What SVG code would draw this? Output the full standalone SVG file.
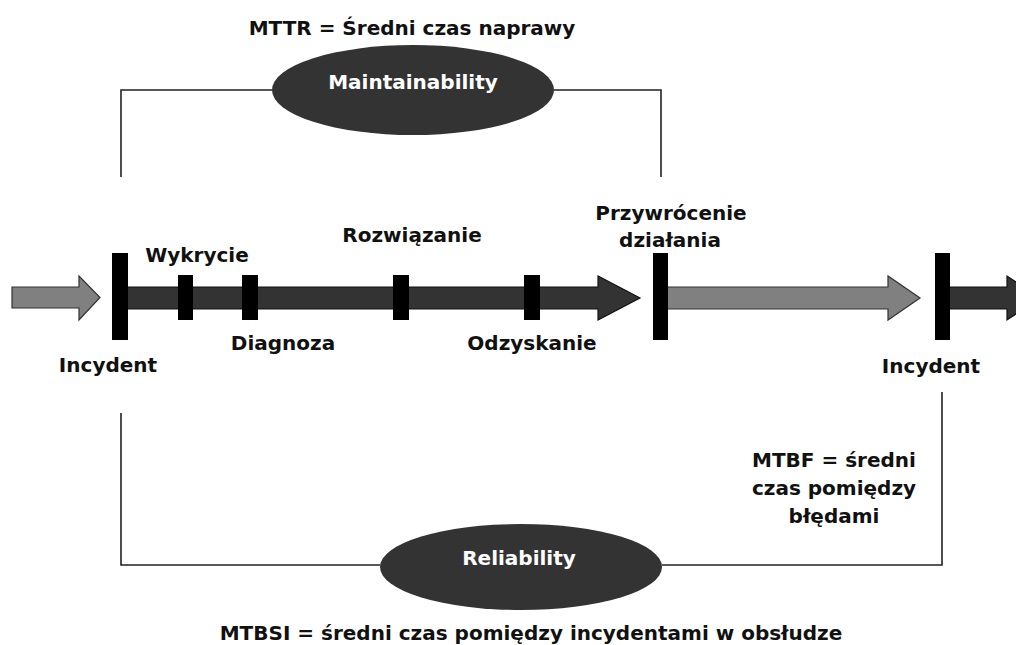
<svg xmlns="http://www.w3.org/2000/svg" width="1016" height="645" viewBox="0 0 1016 645">
  <style>
    .lbl { font-family: "DejaVu Sans", "Liberation Sans", sans-serif; font-weight: bold; font-size: 20px; fill: #111; }
    .inv { font-family: "DejaVu Sans", "Liberation Sans", sans-serif; font-weight: bold; font-size: 20px; fill: #fff; }
    .bracket { fill: none; stroke: #222; stroke-width: 1.6; }
    .oval { fill: #333; }
    .dark { fill: #333; stroke: #111; stroke-width: 1.2; }
    .grey { fill: #808080; stroke: #333; stroke-width: 1.2; }
    .bar { fill: #000; }
  </style>
  <rect width="1016" height="645" fill="#fff"/>

  <!-- bracket lines joining the time markers to the two measures -->
  <g id="connectors">
    <polyline class="bracket" points="121,177 121,90 272,90"/>
    <polyline class="bracket" points="554,90 661,90 661,177"/>
    <polyline class="bracket" points="121,413 121,565 380,565"/>
    <polyline class="bracket" points="662,565 942,565 942,392"/>
  </g>

  <!-- time-line arrows -->
  <g id="arrow-before">
    <polygon class="grey" points="12,287 79,287 79,276 100,297.5 79,320 79,308 12,308"/>
  </g>
  <g id="arrow-outage">
    <polygon class="dark" points="126,287 598,287 598,276 640,298 598,320 598,309 126,309"/>
  </g>
  <g id="arrow-uptime">
    <polygon class="grey" points="667,287 888,287 888,276 920,298 888,320 888,309 667,309"/>
  </g>
  <g id="arrow-next">
    <polygon class="dark" points="949,287 1007,287 1007,276 1040,298 1007,320 1007,309 949,309"/>
  </g>

  <!-- milestone bars -->
  <g id="incydent-1">
    <rect class="bar" x="112" y="253" width="16" height="87"/>
    <text class="lbl" x="108" y="372" text-anchor="middle">Incydent</text>
  </g>
  <g id="wykrycie">
    <rect class="bar" x="178" y="275" width="15" height="45"/>
    <text class="lbl" x="197" y="262" text-anchor="middle">Wykrycie</text>
  </g>
  <g id="diagnoza">
    <rect class="bar" x="242" y="275" width="16" height="45"/>
    <text class="lbl" x="283" y="350" text-anchor="middle">Diagnoza</text>
  </g>
  <g id="rozwiazanie">
    <rect class="bar" x="393" y="275" width="16" height="45"/>
    <text class="lbl" x="412" y="242" text-anchor="middle">Rozwiązanie</text>
  </g>
  <g id="odzyskanie">
    <rect class="bar" x="524" y="275" width="16" height="45"/>
    <text class="lbl" x="532" y="350" text-anchor="middle">Odzyskanie</text>
  </g>
  <g id="przywrocenie">
    <rect class="bar" x="653" y="253" width="15" height="87"/>
    <text class="lbl" x="671" y="220" text-anchor="middle">Przywrócenie</text>
    <text class="lbl" x="670" y="247" text-anchor="middle">działania</text>
  </g>
  <g id="incydent-2">
    <rect class="bar" x="935" y="253" width="15" height="87"/>
    <text class="lbl" x="931" y="373" text-anchor="middle">Incydent</text>
  </g>

  <!-- measures -->
  <g id="maintainability">
    <ellipse class="oval" cx="413" cy="90" rx="141" ry="45"/>
    <text class="inv" x="413" y="89" text-anchor="middle">Maintainability</text>
    <text class="lbl" x="412" y="35" text-anchor="middle">MTTR = Średni czas naprawy</text>
  </g>
  <g id="reliability">
    <ellipse class="oval" cx="521" cy="567" rx="141" ry="43"/>
    <text class="inv" x="519" y="565" text-anchor="middle">Reliability</text>
    <text class="lbl" x="531" y="640" text-anchor="middle">MTBSI = średni czas pomiędzy incydentami w obsłudze</text>
  </g>
  <g id="mtbf">
    <text class="lbl" x="834" y="467" text-anchor="middle">MTBF = średni</text>
    <text class="lbl" x="834" y="495" text-anchor="middle">czas pomiędzy</text>
    <text class="lbl" x="834" y="523" text-anchor="middle">błędami</text>
  </g>
</svg>
